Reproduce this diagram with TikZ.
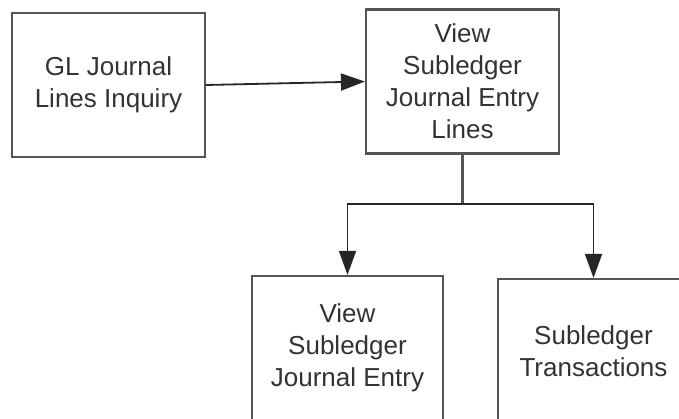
\documentclass[tikz,border=0pt]{standalone}
\usepackage{fontspec}
\setmainfont{Liberation Sans}
\usetikzlibrary{arrows.meta}
\definecolor{boxline}{HTML}{555555}
\definecolor{txt}{HTML}{333333}
\begin{document}
\begin{tikzpicture}[x=1pt,y=-1pt,
  box/.style={draw=boxline, line width=2.2pt, minimum width=193pt, minimum height=144pt,
    align=center, inner sep=0pt, text=txt, font=\fontsize{26pt}{32pt}\selectfont},
  conn/.style={draw=black!85, line width=1.8pt},
  arr/.style={conn, -{Triangle[length=24pt,width=17pt]}}]
\clip (0,0) rectangle (679,419);
\fill[white] (0,0) rectangle (679,419);
\node[box] (A) at (108.5,85) {GL Journal\\Lines Inquiry};
\node[box] (B) at (462.5,81.5) {View\\Subledger\\Journal Entry\\Lines};
\node[box, minimum width=191pt] (C) at (347.5,348) {View\\Subledger\\Journal Entry};
\node[box, minimum width=191pt] (D) at (593.5,351) {Subledger\\Transactions};
\coordinate (br) at (462.5,204);
\draw[arr] (A.east) -- (B.west);
\draw[conn, draw=boxline, line width=2.2pt] (B.south) -- (br);
\draw[arr] (br) -| (C.north);
\draw[arr] (br) -| (D.north);
\end{tikzpicture}
\end{document}
